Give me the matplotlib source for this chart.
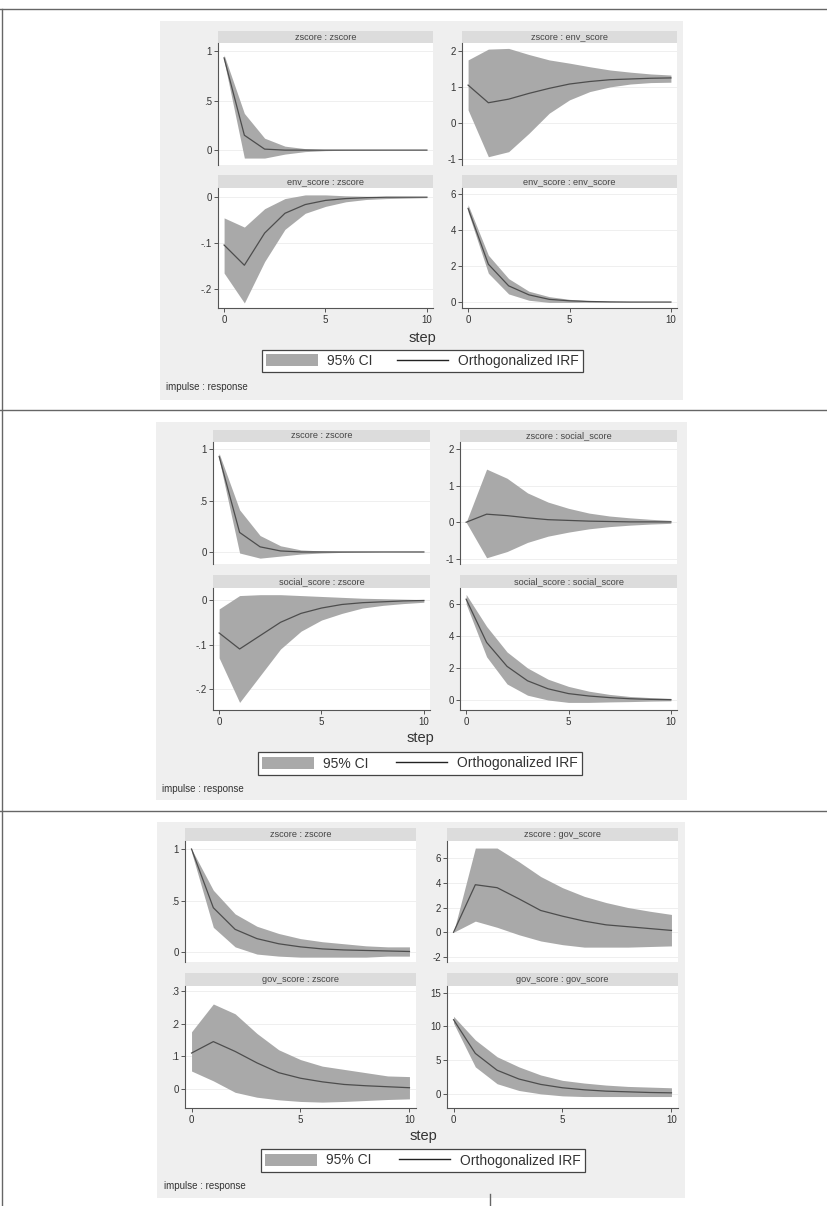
import matplotlib
matplotlib.use("Agg")
import matplotlib.pyplot as plt
from matplotlib.patches import Rectangle, Patch
from matplotlib.lines import Line2D

plt.rcParams["font.family"] = ["Liberation Sans", "DejaVu Sans"]

# ---------------- data ----------------
steps = [0, 1, 2, 3, 4, 5, 6, 7, 8, 9, 10]

# Panel 1: zscore / env_score
env_zz_irf = [0.93, 0.15, 0.01, 0.0, 0.0, 0.0, 0.0, 0.0, 0.0, 0.0, 0.0]
env_zz_lo = [0.90, -0.08, -0.08, -0.04, -0.015, -0.005, -0.002, -0.001, 0.0, 0.0, 0.0]
env_zz_hi = [0.96, 0.37, 0.12, 0.04, 0.015, 0.005, 0.002, 0.001, 0.0, 0.0, 0.0]

env_ze_irf = [1.05, 0.56, 0.66, 0.82, 0.96, 1.08, 1.15, 1.20, 1.22, 1.24, 1.25]
env_ze_lo = [0.36, -0.94, -0.80, -0.29, 0.27, 0.64, 0.87, 1.00, 1.08, 1.12, 1.13]
env_ze_hi = [1.75, 2.05, 2.07, 1.90, 1.75, 1.66, 1.56, 1.47, 1.41, 1.36, 1.33]

env_ez_irf = [-0.104, -0.148, -0.078, -0.035, -0.016, -0.007, -0.003, -0.001, 0.0, 0.0, 0.0]
env_ez_lo = [-0.165, -0.23, -0.14, -0.07, -0.035, -0.02, -0.01, -0.005, -0.003, -0.002, -0.001]
env_ez_hi = [-0.045, -0.065, -0.025, -0.003, 0.005, 0.005, 0.003, 0.002, 0.001, 0.001, 0.0]

env_ee_irf = [5.2, 2.1, 0.9, 0.4, 0.15, 0.07, 0.03, 0.01, 0.0, 0.0, 0.0]
env_ee_lo = [5.0, 1.6, 0.45, 0.1, -0.02, -0.02, -0.01, 0.0, 0.0, 0.0, 0.0]
env_ee_hi = [5.4, 2.6, 1.3, 0.6, 0.3, 0.15, 0.07, 0.03, 0.01, 0.0, 0.0]

# Panel 2: zscore / social_score
soc_zz_irf = [0.93, 0.19, 0.05, 0.01, 0.0, 0.0, 0.0, 0.0, 0.0, 0.0, 0.0]
soc_zz_lo = [0.90, -0.01, -0.06, -0.04, -0.02, -0.01, -0.004, -0.002, 0.0, 0.0, 0.0]
soc_zz_hi = [0.96, 0.41, 0.16, 0.06, 0.02, 0.01, 0.004, 0.002, 0.0, 0.0, 0.0]

soc_zs_irf = [0.0, 0.22, 0.18, 0.12, 0.07, 0.05, 0.03, 0.02, 0.01, 0.01, 0.01]
soc_zs_lo = [0.0, -0.97, -0.80, -0.55, -0.38, -0.27, -0.18, -0.12, -0.08, -0.05, -0.03]
soc_zs_hi = [0.0, 1.45, 1.20, 0.80, 0.55, 0.38, 0.25, 0.17, 0.12, 0.08, 0.05]

soc_sz_irf = [-0.074, -0.11, -0.08, -0.05, -0.03, -0.018, -0.01, -0.006, -0.004, -0.002, -0.001]
soc_sz_lo = [-0.13, -0.23, -0.17, -0.11, -0.07, -0.045, -0.03, -0.018, -0.012, -0.008, -0.005]
soc_sz_hi = [-0.02, 0.01, 0.012, 0.012, 0.01, 0.008, 0.006, 0.004, 0.003, 0.002, 0.001]

soc_ss_irf = [6.3, 3.6, 2.1, 1.2, 0.7, 0.4, 0.25, 0.15, 0.08, 0.04, 0.02]
soc_ss_lo = [6.0, 2.7, 1.0, 0.3, 0.0, -0.15, -0.15, -0.12, -0.1, -0.07, -0.05]
soc_ss_hi = [6.6, 4.6, 3.0, 2.0, 1.3, 0.85, 0.55, 0.35, 0.22, 0.15, 0.1]

# Panel 3: zscore / gov_score
gov_zz_irf = [1.0, 0.43, 0.22, 0.13, 0.08, 0.05, 0.03, 0.02, 0.015, 0.01, 0.005]
gov_zz_lo = [0.97, 0.24, 0.05, -0.02, -0.04, -0.05, -0.05, -0.05, -0.05, -0.04, -0.04]
gov_zz_hi = [1.0, 0.60, 0.37, 0.25, 0.18, 0.13, 0.10, 0.08, 0.06, 0.05, 0.05]

gov_zg_irf = [0.0, 3.84, 3.6, 2.7, 1.76, 1.3, 0.9, 0.6, 0.45, 0.3, 0.15]
gov_zg_lo = [0.0, 0.9, 0.4, -0.2, -0.7, -1.0, -1.2, -1.2, -1.2, -1.15, -1.1]
gov_zg_hi = [0.0, 6.8, 6.8, 5.7, 4.5, 3.6, 2.9, 2.4, 2.0, 1.7, 1.44]

gov_gz_irf = [0.11, 0.145, 0.115, 0.08, 0.05, 0.033, 0.022, 0.014, 0.01, 0.007, 0.004]
gov_gz_lo = [0.055, 0.025, -0.01, -0.025, -0.033, -0.038, -0.04, -0.038, -0.035, -0.032, -0.03]
gov_gz_hi = [0.175, 0.26, 0.23, 0.17, 0.12, 0.09, 0.07, 0.06, 0.05, 0.04, 0.038]

gov_gg_irf = [11.0, 6.0, 3.5, 2.2, 1.4, 0.9, 0.6, 0.4, 0.3, 0.2, 0.15]
gov_gg_lo = [10.5, 4.0, 1.5, 0.5, 0.0, -0.3, -0.4, -0.4, -0.4, -0.4, -0.4]
gov_gg_hi = [11.5, 8.0, 5.5, 4.0, 2.8, 2.0, 1.6, 1.3, 1.1, 1.0, 0.9]

x_ticks = [0, 5, 10]
legend_labels = ["95% CI", "Orthogonalized IRF"]
note_text = "impulse : response"
x_title = "step"

# ---------------- style ----------------
W, H = 828, 1206
PANEL_BG = "#efefef"
STRIP_BG = "#dcdcdc"
CI_COLOR = "#a9a9a9"
LINE_COLOR = "#4d4d4d"
TXT = "#333333"

fig = plt.figure(figsize=(W / 100, H / 100), dpi=100)
fig.patch.set_facecolor("white")


def rect(x0, y0, x1, y1):
    return [x0 / W, 1 - y1 / H, (x1 - x0) / W, (y1 - y0) / H]


def fx(x):
    return x / W


def fy(y):
    return 1 - y / H


def ytick_fmt(v):
    if abs(v - round(v)) < 1e-9:
        return str(int(round(v)))
    s = ("%g" % v)
    s = s.replace("0.", ".")
    return s


def draw_sub(box, strip, title, irf, lo, hi, ylim, yticks, bottom):
    x0, y0, x1, y1 = box
    sax = fig.add_axes(rect(x0, strip[0], x1, strip[1]))
    sax.set_facecolor(STRIP_BG)
    sax.set_xticks([]); sax.set_yticks([])
    for s in sax.spines.values():
        s.set_visible(False)
    sax.text(0.5, 0.5, title, ha="center", va="center", fontsize=6.6,
             color="#444444", transform=sax.transAxes)
    ax = fig.add_axes(rect(x0, y0, x1, y1))
    ax.set_facecolor("white")
    ax.fill_between(steps, lo, hi, color=CI_COLOR, lw=0, zorder=2)
    ax.plot(steps, irf, color=LINE_COLOR, lw=0.9, zorder=3)
    ax.set_xlim(-0.3, 10.3)
    ax.set_ylim(*ylim)
    ax.set_yticks(yticks)
    ax.set_yticklabels([ytick_fmt(v) for v in yticks])
    for v in yticks:
        ax.axhline(v, color="#ececec", lw=0.6, zorder=1)
    ax.spines["top"].set_visible(False)
    ax.spines["right"].set_visible(False)
    ax.spines["left"].set_color("#555555")
    ax.spines["left"].set_linewidth(0.8)
    ax.tick_params(axis="y", length=3, width=0.7, colors="#555555",
                   labelsize=7, labelcolor=TXT, pad=1.5)
    if bottom:
        ax.spines["bottom"].set_color("#555555")
        ax.spines["bottom"].set_linewidth(0.8)
        ax.set_xticks(x_ticks)
        ax.tick_params(axis="x", length=3, width=0.7, colors="#555555",
                       labelsize=7, labelcolor=TXT, pad=2)
    else:
        ax.spines["bottom"].set_visible(False)
        ax.set_xticks([])
    return ax


panels = [
    dict(
        bg=(160, 21, 683, 400),
        cols=((218, 433), (462, 677)),
        rows=((43, 165), (188, 308)),
        strips=((31, 43), (175, 188)),
        subs=[
            ("zscore : zscore", env_zz_irf, env_zz_lo, env_zz_hi, (-0.15, 1.08), [0, 0.5, 1]),
            ("zscore : env_score", env_ze_irf, env_ze_lo, env_ze_hi, (-1.17, 2.22), [-1, 0, 1, 2]),
            ("env_score : zscore", env_ez_irf, env_ez_lo, env_ez_hi, (-0.241, 0.02), [-0.2, -0.1, 0]),
            ("env_score : env_score", env_ee_irf, env_ee_lo, env_ee_hi, (-0.33, 6.33), [0, 2, 4, 6]),
        ],
        step_y=338, legend=(262, 349, 583, 373), note=(166, 387),
    ),
    dict(
        bg=(156, 422, 687, 800),
        cols=((213, 430), (460, 677)),
        rows=((442, 564), (588, 710)),
        strips=((430, 442), (575, 588)),
        subs=[
            ("zscore : zscore", soc_zz_irf, soc_zz_lo, soc_zz_hi, (-0.117, 1.07), [0, 0.5, 1]),
            ("zscore : social_score", soc_zs_irf, soc_zs_lo, soc_zs_hi, (-1.14, 2.19), [-1, 0, 1, 2]),
            ("social_score : zscore", soc_sz_irf, soc_sz_lo, soc_sz_hi, (-0.247, 0.027), [-0.2, -0.1, 0]),
            ("social_score : social_score", soc_ss_irf, soc_ss_lo, soc_ss_hi, (-0.625, 7.0), [0, 2, 4, 6]),
        ],
        step_y=738, legend=(258, 751, 582, 776), note=(162, 789),
    ),
    dict(
        bg=(157, 822, 685, 1198),
        cols=((185, 416), (447, 678)),
        rows=((841, 962), (986, 1108)),
        strips=((828, 841), (973, 986)),
        subs=[
            ("zscore : zscore", gov_zz_irf, gov_zz_lo, gov_zz_hi, (-0.097, 1.078), [0, 0.5, 1]),
            ("zscore : gov_score", gov_zg_irf, gov_zg_lo, gov_zg_hi, (-2.4, 7.37), [-2, 0, 2, 4, 6]),
            ("gov_score : zscore", gov_gz_irf, gov_gz_lo, gov_gz_hi, (-0.058, 0.315), [0, 0.1, 0.2, 0.3]),
            ("gov_score : gov_score", gov_gg_irf, gov_gg_lo, gov_gg_hi, (-2.1, 16.0), [0, 5, 10, 15]),
        ],
        step_y=1136, legend=(261, 1148, 585, 1173), note=(164, 1186),
    ),
]

# table lines
for yy in (9, 410, 811):
    fig.add_artist(Line2D([fx(0), fx(828)], [fy(yy), fy(yy)], color="#666666", lw=1.0))
fig.add_artist(Line2D([fx(2.5), fx(2.5)], [fy(9), fy(1206)], color="#666666", lw=1.0))
fig.add_artist(Line2D([fx(490), fx(490)], [fy(1194), fy(1206)], color="#666666", lw=1.0))

for p in panels:
    bx0, by0, bx1, by1 = p["bg"]
    fig.add_artist(Rectangle((fx(bx0), fy(by1)), (bx1 - bx0) / W, (by1 - by0) / H,
                             facecolor=PANEL_BG, edgecolor="none", zorder=0))
    for i, (title, irf, lo, hi, ylim, yt) in enumerate(p["subs"]):
        r, c = divmod(i, 2)
        cx0, cx1 = p["cols"][c]
        ry0, ry1 = p["rows"][r]
        draw_sub((cx0, ry0, cx1, ry1), p["strips"][r], title, irf, lo, hi, ylim, yt, bottom=(r == 1))
    lx0, ly0, lx1, ly1 = p["legend"]
    cxm = (lx0 + lx1) / 2
    fig.text(fx(cxm), fy(p["step_y"]), x_title, ha="center", va="center",
             fontsize=10.5, color=TXT)
    handles = [Patch(facecolor=CI_COLOR, edgecolor="none"),
               Line2D([], [], color="#222222", lw=1.0)]
    leg = fig.legend(handles, legend_labels, loc="center",
                     bbox_to_anchor=(fx(lx0), fy(ly1), (lx1 - lx0) / W, (ly1 - ly0) / H),
                     ncol=2, mode="expand", frameon=True, fancybox=False,
                     edgecolor="#444444", facecolor="white", framealpha=1,
                     borderaxespad=0, handlelength=3.7, handleheight=0.95,
                     fontsize=10, borderpad=0.3, handletextpad=0.7,
                     columnspacing=1.5)
    leg.get_frame().set_linewidth(0.9)
    for t in leg.get_texts():
        t.set_color(TXT)
    fig.text(fx(p["note"][0]), fy(p["note"][1]), note_text, ha="left", va="center",
             fontsize=7, color=TXT)

fig.savefig("out.png", dpi=100, facecolor="white")
